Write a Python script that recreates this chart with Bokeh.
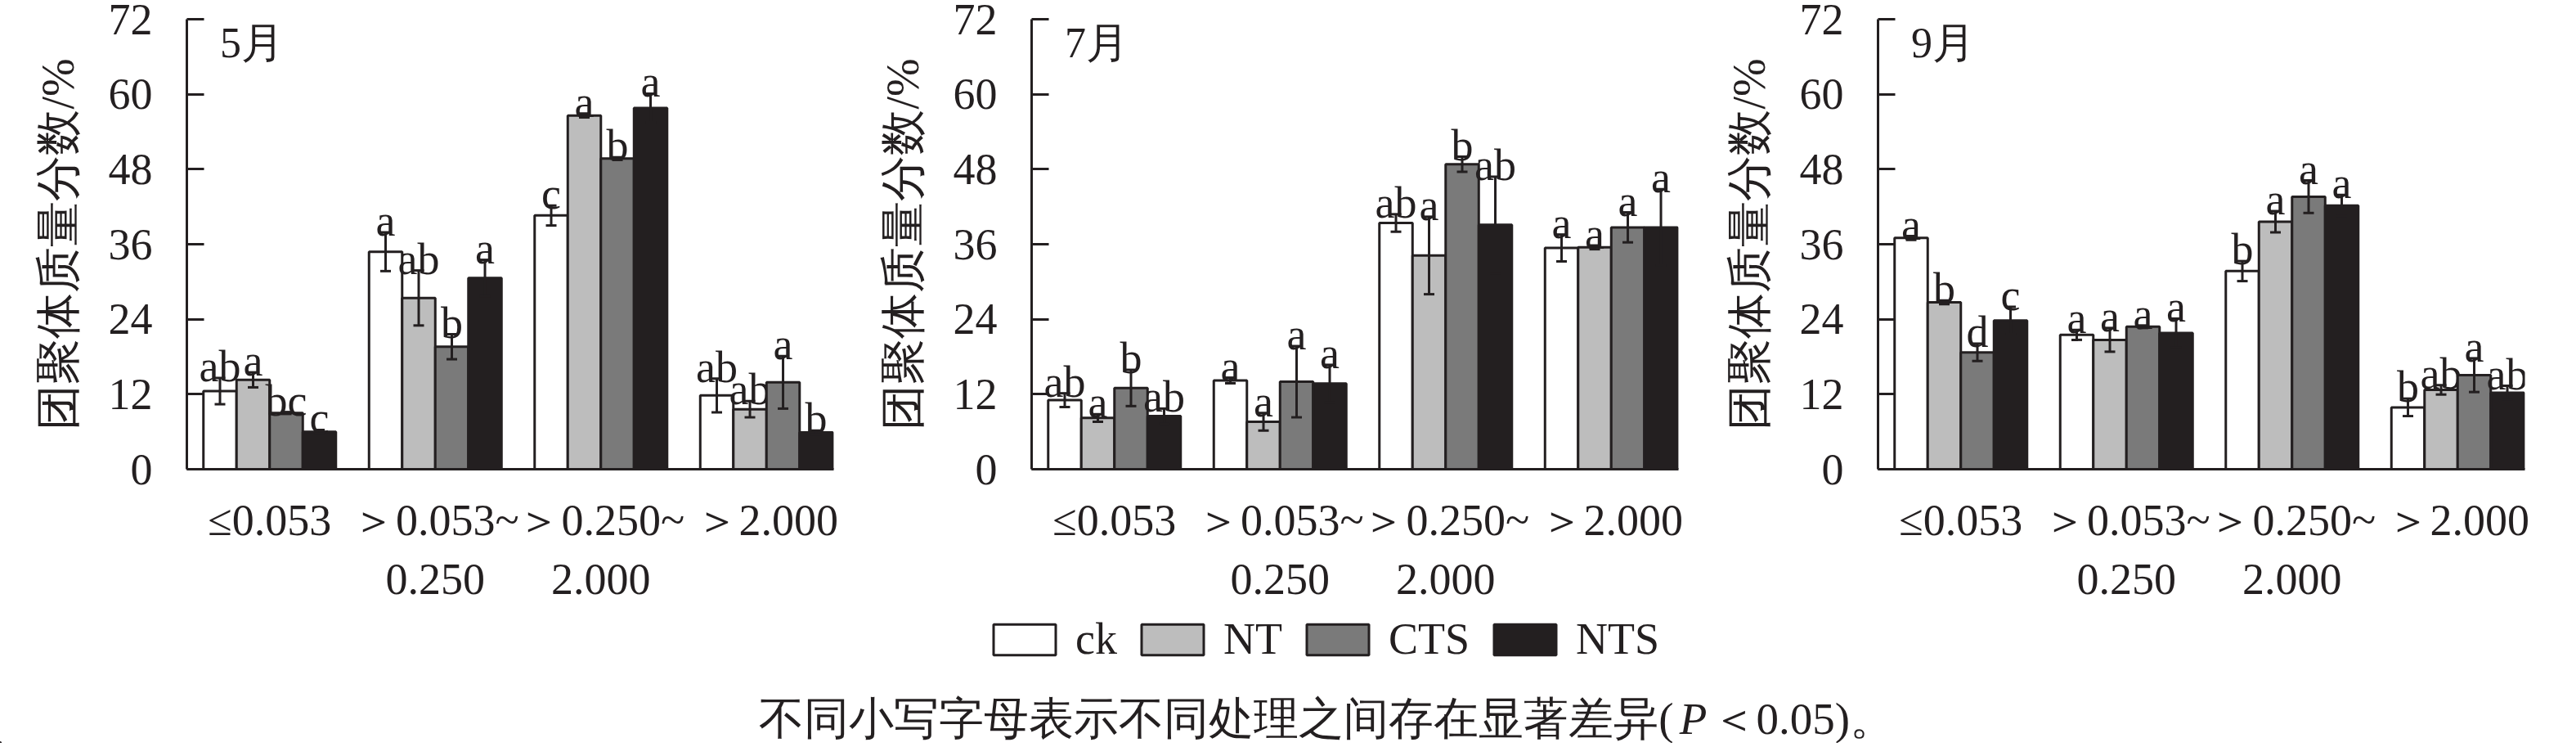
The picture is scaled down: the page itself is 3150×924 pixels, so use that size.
from bokeh.plotting import figure
from bokeh.models import (ColumnDataSource, Whisker, TeeHead, Range1d, FixedTicker,
                          Label, Legend, LegendItem)
from bokeh.layouts import column, row
from bokeh.embed import file_html
from bokeh.resources import INLINE
from bokeh.core.properties import value

# ---------------- data ----------------
categories = ["≤0.053", "＞0.053~\n0.250", "＞0.250~\n2.000", "＞2.000"]
treatments = ["ck", "NT", "CTS", "NTS"]
months = ["5月", "7月", "9月"]
y_ticks = [0, 12, 24, 36, 48, 60, 72]

# May
may_ck = [12.5, 34.8, 40.6, 11.8]
may_nt = [14.3, 27.4, 56.6, 9.6]
may_cts = [9.0, 19.6, 49.7, 13.9]
may_nts = [6.0, 30.6, 57.8, 5.9]
may_ck_err = [2.1, 3.1, 1.6, 2.7]
may_nt_err = [1.2, 4.4, 0.3, 1.3]
may_cts_err = [0.15, 2.0, 0.2, 4.2]
may_nts_err = [0.3, 2.9, 2.3, 0.3]
may_ck_sig = ["ab", "a", "c", "ab"]
may_nt_sig = ["a", "ab", "a", "ab"]
may_cts_sig = ["bc", "b", "b", "a"]
may_nts_sig = ["c", "a", "a", "b"]

# July
jul_ck = [11.05, 14.2, 39.4, 35.4]
jul_nt = [8.2, 7.6, 34.2, 35.5]
jul_cts = [13.0, 14.0, 48.8, 38.7]
jul_nts = [8.5, 13.7, 39.1, 38.7]
jul_ck_err = [1.1, 0.45, 1.4, 2.15]
jul_nt_err = [0.6, 1.4, 6.2, 0.3]
jul_cts_err = [2.9, 5.7, 1.2, 2.4]
jul_nts_err = [1.2, 3.0, 7.7, 6.1]
jul_ck_sig = ["ab", "a", "ab", "a"]
jul_nt_sig = ["a", "a", "a", "a"]
jul_cts_sig = ["b", "a", "b", "a"]
jul_nts_sig = ["ab", "a", "ab", "a"]

# September
sep_ck = [37.0, 21.5, 31.7, 9.9]
sep_nt = [26.7, 20.7, 39.6, 12.7]
sep_cts = [18.7, 22.8, 43.6, 15.05]
sep_nts = [23.8, 21.8, 42.2, 12.25]
sep_ck_err = [0.3, 0.8, 1.6, 1.4]
sep_nt_err = [0.3, 1.9, 1.7, 0.75]
sep_cts_err = [1.4, 0.2, 2.6, 2.7]
sep_nts_err = [2.2, 2.3, 1.7, 1.1]
sep_ck_sig = ["a", "a", "b", "b"]
sep_nt_sig = ["b", "a", "a", "ab"]
sep_cts_sig = ["d", "a", "a", "a"]
sep_nts_sig = ["c", "a", "a", "ab"]

caption_main = "不同小写字母表示不同处理之间存在显著差异("
caption_p = "P"
caption_tail = "＜0.05)。"

# ---------------- style ----------------
INK = "#231f20"
colors = ["#ffffff", "#bdbdbd", "#7a7a7a", "#231f20"]
offsets = [-0.3, -0.1, 0.1, 0.3]
SERIF = "Liberation Serif"
FS = "54px"


def make_panel(month, vals, errs, sigs, left, right):
    p = figure(width=left + 791 + right, height=740,
               x_range=Range1d(0, 3.906), y_range=Range1d(0, 72),
               output_backend="svg", toolbar_location=None,
               min_border_left=left, min_border_right=right,
               min_border_top=23, min_border_bottom=162)
    p.outline_line_color = None
    p.xgrid.visible = False
    p.ygrid.visible = False
    p.background_fill_color = "white"
    p.border_fill_color = "white"

    ya = p.yaxis[0]
    ya.ticker = FixedTicker(ticks=y_ticks)
    ya.major_tick_in = 21
    ya.major_tick_out = 0
    ya.minor_tick_line_color = None
    ya.axis_line_width = 3
    ya.axis_line_color = INK
    ya.major_tick_line_width = 3
    ya.major_tick_line_color = INK
    ya.major_label_text_font = SERIF
    ya.major_label_text_font_size = FS
    ya.major_label_text_color = INK
    ya.major_label_standoff = 42
    ya.axis_label = "团聚体质量分数/%"
    ya.axis_label_text_font = SERIF
    ya.axis_label_text_font_size = "56px"
    ya.axis_label_text_font_style = "normal"
    ya.axis_label_text_color = INK
    ya.axis_label_standoff = 28

    xa = p.xaxis[0]
    xa.ticker = FixedTicker(ticks=[0.5, 1.5, 2.5, 3.5])
    xa.major_label_overrides = {0.5: categories[0], 1.5: categories[1],
                                2.5: categories[2], 3.5: categories[3]}
    xa.major_tick_in = 0
    xa.major_tick_out = 0
    xa.minor_tick_line_color = None
    xa.axis_line_width = 3
    xa.axis_line_color = INK
    xa.major_label_text_font = SERIF
    xa.major_label_text_font_size = FS
    xa.major_label_text_color = INK
    xa.major_label_standoff = 32

    for i in range(4):
        xs = [k + 0.5 + offsets[i] for k in range(4)]
        upper = [v + e for v, e in zip(vals[i], errs[i])]
        lower = [v - e for v, e in zip(vals[i], errs[i])]
        src = ColumnDataSource(dict(x=xs, top=vals[i], upper=upper, lower=lower, sig=sigs[i]))
        p.vbar(x="x", top="top", width=0.2, source=src, fill_color=colors[i],
               line_color=INK, line_width=3)
        w = Whisker(source=src, base="x", upper="upper", lower="lower",
                    line_width=3, line_color=INK, level="overlay",
                    upper_head=TeeHead(size=13, line_width=3, line_color=INK),
                    lower_head=TeeHead(size=13, line_width=3, line_color=INK))
        p.add_layout(w)
        p.text(x="x", y="upper", text="sig", source=src, text_align="center",
               text_baseline="alphabetic", y_offset=-14,
               text_font=value(SERIF), text_font_size=FS, text_color=INK)

    p.add_layout(Label(x=0.2, y=72, text=month, text_baseline="top",
                       text_font=SERIF, text_font_size="52px", text_color=INK))
    return p


p1 = make_panel(months[0], [may_ck, may_nt, may_cts, may_nts],
                [may_ck_err, may_nt_err, may_cts_err, may_nts_err],
                [may_ck_sig, may_nt_sig, may_cts_sig, may_nts_sig], 228, 14)
p2 = make_panel(months[1], [jul_ck, jul_nt, jul_cts, jul_nts],
                [jul_ck_err, jul_nt_err, jul_cts_err, jul_nts_err],
                [jul_ck_sig, jul_nt_sig, jul_cts_sig, jul_nts_sig], 228, 16)
p3 = make_panel(months[2], [sep_ck, sep_nt, sep_cts, sep_nts],
                [sep_ck_err, sep_nt_err, sep_cts_err, sep_nts_err],
                [sep_ck_sig, sep_nt_sig, sep_cts_sig, sep_nts_sig], 228, 47)

# legend + caption strip
p4 = figure(width=3134, height=168, x_range=Range1d(0, 3134), y_range=Range1d(0, 168),
            output_backend="svg", toolbar_location=None, min_border=0,
            x_axis_type=None, y_axis_type=None)
p4.outline_line_color = None
p4.xgrid.visible = False
p4.ygrid.visible = False
items = []
for i, t in enumerate(treatments):
    # placeholder bar outside the visible range, only used for its legend swatch
    r = p4.vbar(x=[-1000], top=[1], width=1, fill_color=colors[i], line_color=INK, line_width=3)
    items.append(LegendItem(label=t, renderers=[r]))
legend = Legend(items=items, orientation="horizontal", location=(1205, 96),
                glyph_width=95, glyph_height=47, label_height=47, label_standoff=15,
                spacing=20, padding=0, margin=0, border_line_color=None,
                background_fill_alpha=0, label_text_font=SERIF,
                label_text_font_size=FS, label_text_color=INK)
p4.add_layout(legend)

p4.add_layout(Label(x=2046, y=30, text=caption_main, text_align="right",
                    text_baseline="middle", text_font=SERIF, text_font_size="55px",
                    text_color=INK))
p4.add_layout(Label(x=2070, y=30, text=caption_p, text_align="center",
                    text_baseline="middle", text_font=SERIF, text_font_size="55px",
                    text_font_style="italic", text_color=INK))
p4.add_layout(Label(x=2092, y=30, text=caption_tail, text_align="left",
                    text_baseline="middle", text_font=SERIF, text_font_size="55px",
                    text_color=INK))

layout = column(row(p1, p2, p3), p4)
open("out.html", "w").write(file_html(layout, INLINE))
